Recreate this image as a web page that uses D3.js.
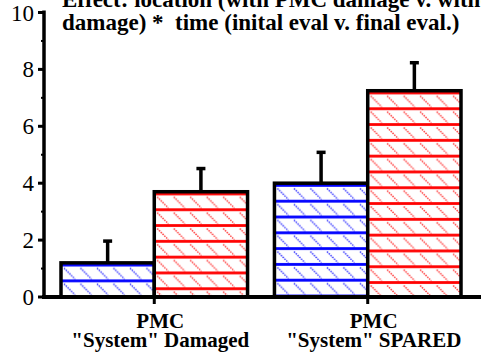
<!DOCTYPE html>
<html>
<head>
<meta charset="utf-8">
<script src="https://cdn.jsdelivr.net/npm/d3@7"></script>
<style>
  body { margin: 0; background: #fff; }
  svg { display: block; }
  svg text { font-family: "Liberation Serif", "DejaVu Serif", "Times New Roman", serif; }
</style>
</head>
<body>
<div id="chart"></div>
<script>
// Grouped bar chart: PMC damaged vs spared, initial vs final evaluation
const groups = ["Damaged", "SPARED"];
const groupLine1 = ["PMC", "PMC"];
const groupLine2 = ["\"System\" Damaged", "\"System\" SPARED"];
const series = ["initial", "final"];
const initialMeans = [1.2, 4.0];
const finalMeans = [3.7, 7.25];
const initialErr = [0.8, 1.12];
const finalErr = [0.85, 1.02];
const yTicks = [0, 2, 4, 6, 8, 10];
const yMinorTicks = [1, 3, 5, 7, 9];
const titleLines = ["Effect: location (with PMC damage v. without PMC",
                    "damage) *  time (inital eval v. final eval.)"];

const width = 481, height = 356;
const colors = { initial: "#0000ff", final: "#ff0000" };

const rows = [];
groups.forEach((g, i) => {
  rows.push({ group: g, series: "initial", value: initialMeans[i], err: initialErr[i] });
  rows.push({ group: g, series: "final", value: finalMeans[i], err: finalErr[i] });
});

const svg = d3.select("#chart")
  .append("svg")
  .attr("width", width)
  .attr("height", height);

const y = d3.scaleLinear()
  .domain([0, 10])
  .range([297, 12.5]);

const x0 = d3.scaleBand()
  .domain(groups)
  .range([61, 461])
  .paddingInner(0.126);

const x1 = d3.scaleBand()
  .domain(series)
  .range([0, x0.bandwidth()]);

// hatch patterns, one per bar so the lines start from the bar top
const defs = svg.append("defs");
rows.forEach((d, i) => {
  const top = y(d.value);
  const p = defs.append("pattern")
    .attr("id", "hatch" + i)
    .attr("patternUnits", "userSpaceOnUse")
    .attr("width", 16.5)
    .attr("height", 15.8)
    .attr("x", x0(d.group) + x1(d.series) + 2)
    .attr("y", top + 3.7);
  p.append("rect").attr("width", 16.5).attr("height", 15.8).attr("fill", "#fff");
  p.append("line")
    .attr("x1", 1).attr("y1", 1.5).attr("x2", 12).attr("y2", 12.5)
    .attr("stroke", colors[d.series])
    .attr("stroke-opacity", 0.75)
    .attr("stroke-width", 1.5)
    .attr("stroke-dasharray", "1.5,1");
  p.append("line")
    .attr("x1", 0).attr("y1", 14.3).attr("x2", 16.5).attr("y2", 14.3)
    .attr("stroke", colors[d.series])
    .attr("stroke-width", 2.8);
});

// error bars (upper only)
const eb = svg.append("g");
rows.forEach(d => {
  const cx = x0(d.group) + x1(d.series) + x1.bandwidth() / 2;
  eb.append("line")
    .attr("x1", cx).attr("x2", cx)
    .attr("y1", y(d.value)).attr("y2", y(d.value + d.err))
    .attr("stroke", "#000")
    .attr("stroke-width", 3.5);
  eb.append("line")
    .attr("x1", cx - 4.5).attr("x2", cx + 4.5)
    .attr("y1", y(d.value + d.err) + 1).attr("y2", y(d.value + d.err) + 1)
    .attr("stroke", "#000")
    .attr("stroke-width", 3.5);
});

// bars
svg.append("g")
  .selectAll("rect")
  .data(rows)
  .join("rect")
    .attr("x", d => x0(d.group) + x1(d.series))
    .attr("y", d => y(d.value))
    .attr("width", x1.bandwidth())
    .attr("height", d => y(0) - y(d.value))
    .attr("fill", (d, i) => `url(#hatch${i})`)
    .attr("stroke", "#000")
    .attr("stroke-width", 3.5);

// y axis
const yAxis = svg.append("g");
yAxis.append("line")
  .attr("x1", 44).attr("x2", 44)
  .attr("y1", y(10) - 2).attr("y2", y(0) + 2)
  .attr("stroke", "#000").attr("stroke-width", 3.5);
yAxis.selectAll(".major")
  .data(yTicks)
  .join("line")
    .attr("x1", 38).attr("x2", 44)
    .attr("y1", d => y(d)).attr("y2", d => y(d))
    .attr("stroke", "#000").attr("stroke-width", 3);
yAxis.selectAll(".minor")
  .data(yMinorTicks)
  .join("line")
    .attr("x1", 41).attr("x2", 44)
    .attr("y1", d => y(d)).attr("y2", d => y(d))
    .attr("stroke", "#000").attr("stroke-width", 2);
yAxis.selectAll("text")
  .data(yTicks)
  .join("text")
    .attr("x", 34)
    .attr("y", d => y(d) + 8)
    .attr("text-anchor", "end")
    .attr("font-size", "23px")
    .text(d => d);

// x axis
const xAxis = svg.append("g");
xAxis.append("line")
  .attr("x1", 42).attr("x2", width)
  .attr("y1", y(0)).attr("y2", y(0))
  .attr("stroke", "#000").attr("stroke-width", 4);
xAxis.selectAll(".tick")
  .data(groups)
  .join("line")
    .attr("x1", d => x0(d) + x0.bandwidth() / 2)
    .attr("x2", d => x0(d) + x0.bandwidth() / 2)
    .attr("y1", y(0)).attr("y2", y(0) + 7)
    .attr("stroke", "#000").attr("stroke-width", 3);
const labels = xAxis.selectAll(".lab")
  .data(groups)
  .join("text")
    .attr("text-anchor", "middle")
    .attr("font-size", "21px")
    .attr("font-weight", "bold");
labels.append("tspan")
  .attr("x", d => x0(d) + x0.bandwidth() / 2 + 6)
  .attr("y", 328)
  .text((d, i) => groupLine1[i]);
labels.append("tspan")
  .attr("x", d => x0(d) + x0.bandwidth() / 2 + 6)
  .attr("y", 347)
  .text((d, i) => groupLine2[i]);

// title
svg.append("g")
  .selectAll("text")
  .data(titleLines)
  .join("text")
    .attr("x", 62)
    .attr("y", (d, i) => 7 + i * 23)
    .attr("font-size", "23px")
    .attr("font-weight", "bold")
    .style("white-space", "pre")
    .text(d => d);
</script>
</body>
</html>
